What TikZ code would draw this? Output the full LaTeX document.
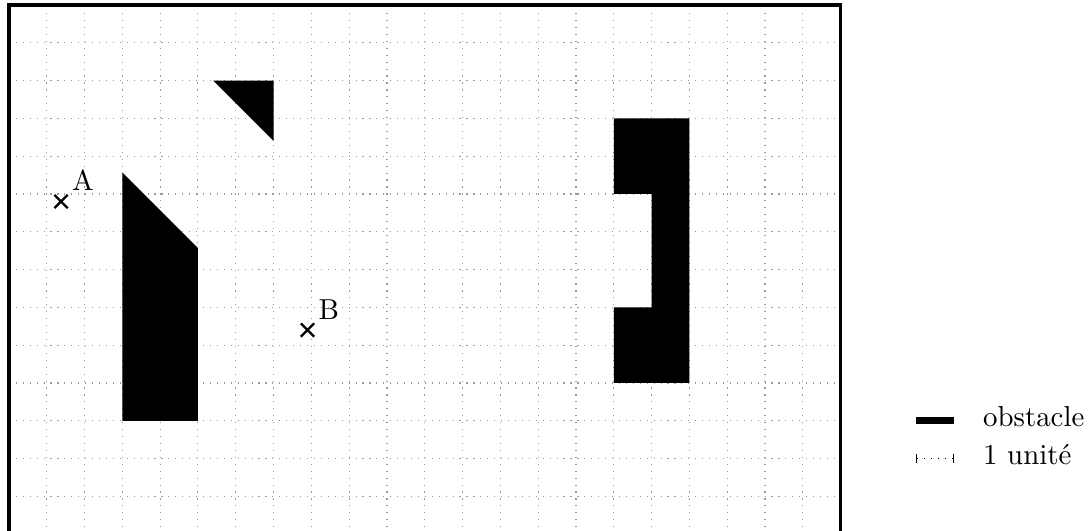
\documentclass[tikz,border=0pt]{standalone}
\usetikzlibrary{shapes.misc,arrows.meta}

\begin{document}
\begin{tikzpicture}[
  x=0.46cm, y=0.46cm,
  grid lines/.style={gray!80, dotted, step=0.46cm},
  frame/.style={very thick},
  obstacle/.style={fill=black},
  pointmark/.style={cross out, draw, thick, minimum size=3.8pt, inner sep=0pt},
  point label/.style={inner sep=1.3pt},
  legend text/.style={anchor=west}
]
\useasboundingbox (-0.235,0.085) rectangle (28.57,14.13);
\draw[grid lines] (0,0) grid (22,14);
\draw[frame] (0,0) rectangle (22,14);

% obstacles
\fill[obstacle] (3,3) -- (5,3) -- (5,7.57) -- (3,9.57) -- cycle;
\fill[obstacle] (5.4,12) -- (7,12) -- (7,10.4) -- cycle;
\fill[obstacle] (16,4) -- (18,4) -- (18,11) -- (16,11) -- (16,9)
  -- (17,9) -- (17,6) -- (16,6) -- cycle;

% points
\node[pointmark, label={[point label]above right:A}] (A) at (1.38,8.8) {};
\node[pointmark, label={[point label]above right:B}] (B) at (7.9,5.4) {};

% legend
\coordinate (obs w) at (24,3);
\coordinate (obs e) at (25,3);
\coordinate (unit w) at (24,2);
\coordinate (unit e) at (25,2);
\draw[line width=2.4pt] (obs w) -- (obs e);
\draw[dotted, {Bar[width=3pt]}-{Bar[width=3pt]}] (unit w) -- (unit e);
\node[legend text] (obs text) at (25.5,3.1) {obstacle};
\node[legend text] (unit text) at (25.5,2.1) {1 unité};
\end{tikzpicture}
\end{document}
